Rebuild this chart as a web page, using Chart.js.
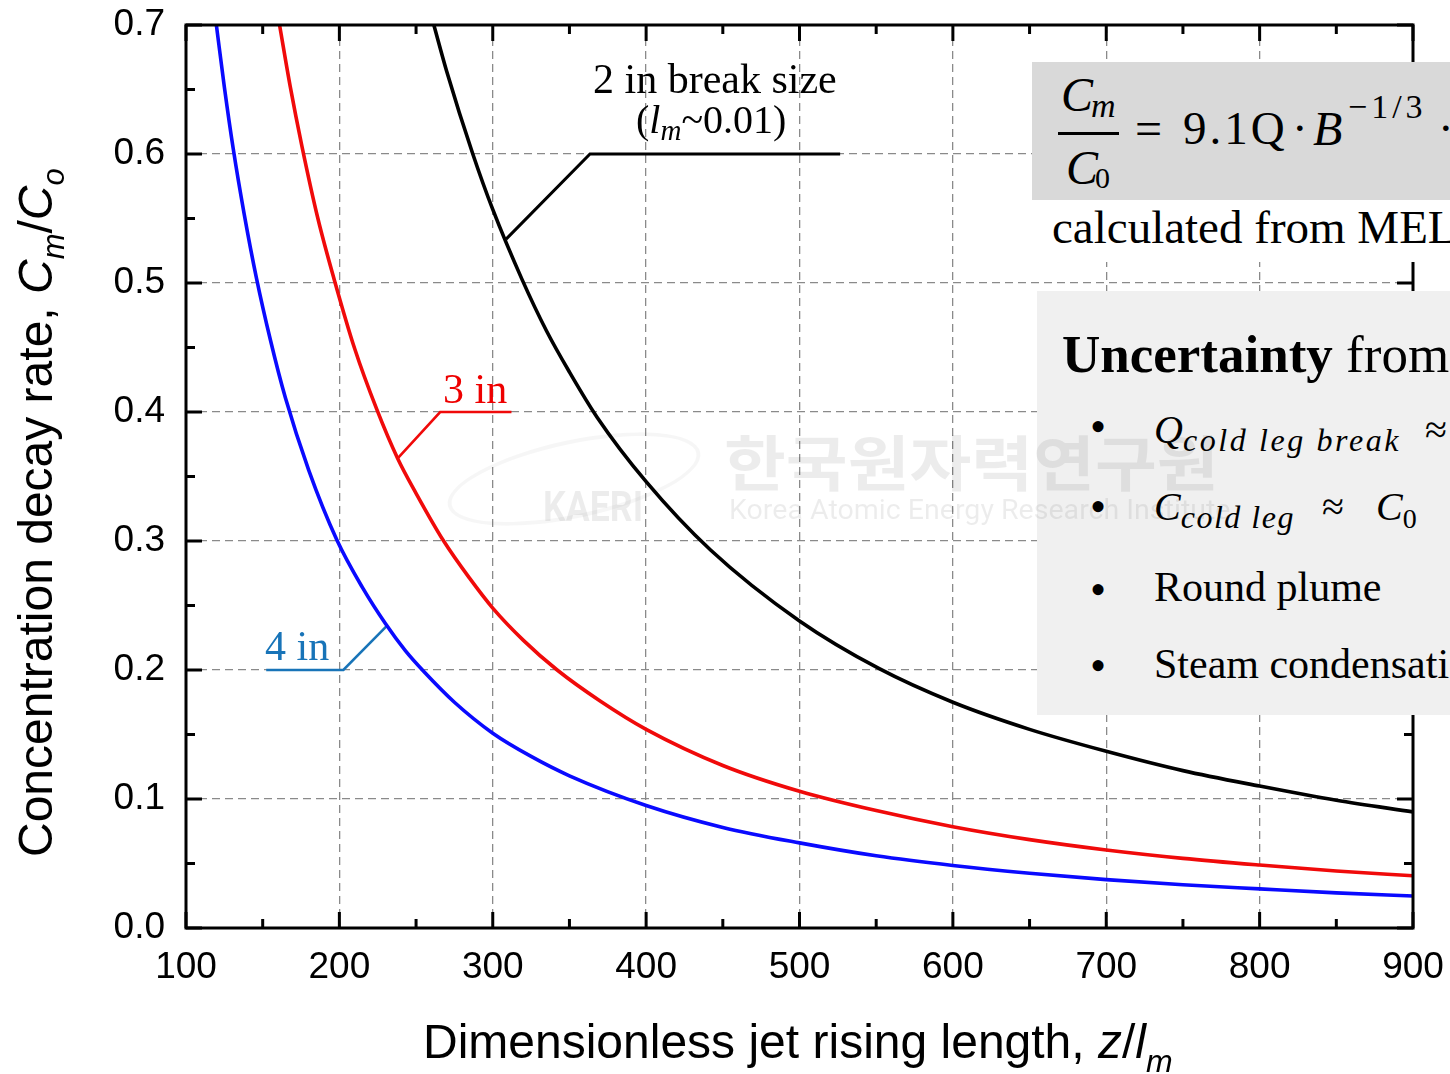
<!DOCTYPE html>
<html>
<head>
<meta charset="utf-8">
<script src="https://cdn.jsdelivr.net/npm/chart.js@4.4.1/dist/chart.umd.min.js"></script>
<style>
  body { margin: 0; width: 1450px; height: 1074px; overflow: hidden; position: relative; background: #fff; }
  #chart { position: absolute; left: 0; top: 0; }
  .t { position: absolute; white-space: nowrap; line-height: 1; }
  .serif { font-family: "Liberation Serif", "Times New Roman", serif; }
  .sans { font-family: "Liberation Sans", Arial, sans-serif; }
  .box { position: absolute; }
  .wm { position: absolute; white-space: nowrap; line-height: 1; color: rgba(0,0,0,0.075); }
</style>
</head>
<body>
<canvas id="chart" width="1450" height="1074"></canvas>

<!-- axis titles -->
<div class="t sans" style="left:423px; top:1018px; font-size:48px;">Dimensionless jet rising length, <i>z</i>/<i>l</i><sub style="font-size:32px; vertical-align:-14px;"><i>m</i></sub></div>
<div class="t sans" style="left:12px; top:857px; font-size:48px; transform-origin:left top; transform:rotate(-90deg);">Concentration decay rate, <i>C</i><sub style="font-size:31px; vertical-align:-12px;"><i>m</i></sub>/<i>C</i><sub style="font-size:31px; vertical-align:-12px;"><i>o</i></sub></div>

<!-- curve labels -->
<div class="t serif" style="left:593px; top:58px; font-size:42px;">2 in break size</div>
<div class="t serif" style="left:636px; top:100px; font-size:40px;">(<i>l</i><sub style="font-size:29px; vertical-align:-7px;"><i>m</i></sub>~0.01)</div>
<div class="t serif" style="left:443px; top:368px; font-size:42px; color:#ee0000;">3 in</div>
<div class="t serif" style="left:265px; top:625px; font-size:42px; color:#1874b8;">4 in</div>

<!-- formula box -->
<div class="box" style="left:1032px; top:62px; width:460px; height:138px; background:#d9d9d9;"></div>
<div class="t serif" style="left:1061px; top:71px; font-size:48px;"><i>C</i></div>
<div class="t serif" style="left:1091px; top:89px; font-size:34px;"><i>m</i></div>
<div class="box" style="left:1058px; top:132px; width:61px; height:3px; background:#000;"></div>
<div class="t serif" style="left:1066px; top:144px; font-size:48px;"><i>C</i></div>
<div class="t serif" style="left:1095px; top:163px; font-size:30px;">0</div>
<div class="t serif" style="left:1135px; top:105px; font-size:48px;">=</div>
<div class="t serif" style="left:1183px; top:105px; font-size:47px; letter-spacing:3px;">9.1Q</div>
<div class="t serif" style="left:1292px; top:105px; font-size:47px;">·</div>
<div class="t serif" style="left:1313px; top:105px; font-size:48px;"><i>B</i></div>
<div class="t serif" style="left:1348px; top:90px; font-size:34px; letter-spacing:4px;">−1/3</div>
<div class="t serif" style="left:1438px; top:105px; font-size:47px;">·</div>
<div class="box" style="left:1032px; top:200px; width:460px; height:62px; background:#fff;"></div>
<div class="t serif" style="left:1052px; top:204px; font-size:47px;">calculated from MELCOR</div>

<!-- uncertainty box -->
<div class="box" style="left:1037px; top:291px; width:460px; height:424px; background:#f0f0f0;"></div>
<div class="t serif" style="left:1062px; top:328px; font-size:53px;"><b>Uncertainty</b> from</div>
<div class="t serif" style="left:1090px; top:404px; font-size:46px;">•</div>
<div class="t serif" style="left:1154px; top:410px; font-size:40px;"><i>Q</i><sub style="font-size:32px; vertical-align:-8px; letter-spacing:2.6px;"><i>cold leg break</i></sub></div>
<div class="t serif" style="left:1425px; top:410px; font-size:40px;">≈</div>
<div class="t serif" style="left:1090px; top:484px; font-size:46px;">•</div>
<div class="t serif" style="left:1154px; top:487px; font-size:40px;"><i>C</i><sub style="font-size:32px; vertical-align:-8px; letter-spacing:1.5px;"><i>cold leg</i></sub></div>
<div class="t serif" style="left:1322px; top:487px; font-size:40px;">≈</div>
<div class="t serif" style="left:1376px; top:487px; font-size:40px;"><i>C</i><sub style="font-size:28px; vertical-align:-8px;">0</sub></div>
<div class="t serif" style="left:1090px; top:567px; font-size:46px;">•</div>
<div class="t serif" style="left:1154px; top:566px; font-size:42px;">Round plume</div>
<div class="t serif" style="left:1090px; top:643px; font-size:46px;">•</div>
<div class="t serif" style="left:1154px; top:643px; font-size:42px;">Steam condensation</div>

<!-- watermark -->
<div class="wm" style="left:445px; top:440px; width:250px; height:70px; border:4px solid rgba(0,0,0,0.035); border-radius:50%; transform:rotate(-12deg);"></div>
<div class="wm" style="left:543px; top:486px; font-family:'Roboto', sans-serif; font-weight:bold; font-size:42px; transform:scaleX(0.85); transform-origin:left top;">KAERI</div>
<div class="wm" style="left:724px; top:430px; font-family:'Noto Sans CJK KR', sans-serif; font-weight:bold; font-size:60px; transform:scaleX(1.12); transform-origin:left top;">한국원자력연구원</div>
<div class="wm" style="left:729px; top:496px; font-family:'Roboto', sans-serif; font-size:28px; transform:scaleX(1.02); transform-origin:left top;">Korea Atomic Energy Research Institute</div>

<script>
// x tick labels / y tick labels
const xTicks = [100, 200, 300, 400, 500, 600, 700, 800, 900];
const yTicks = [0.0, 0.1, 0.2, 0.3, 0.4, 0.5, 0.6, 0.7];

// 2 in break size (black)
const blackX = [261.6, 270, 287, 300, 319, 335, 350, 368, 400, 442, 500, 552, 600, 650, 700, 750, 800, 850, 900];
const blackY = [0.700, 0.664, 0.600, 0.557, 0.503, 0.463, 0.431, 0.396, 0.346, 0.293, 0.238, 0.201, 0.175, 0.154, 0.137, 0.122, 0.110, 0.099, 0.090];

// 3 in (red)
const redX = [161, 168, 175.6, 186, 196.8, 210, 224.4, 238, 250, 268, 285, 300, 320, 342, 370, 400, 450, 500, 550, 600, 650, 700, 750, 800, 850, 900];
const redY = [0.700, 0.652, 0.606, 0.550, 0.502, 0.449, 0.402, 0.364, 0.337, 0.300, 0.271, 0.248, 0.223, 0.200, 0.176, 0.154, 0.126, 0.106, 0.091, 0.0785, 0.0685, 0.0605, 0.054, 0.0488, 0.0442, 0.0405];

// 4 in (blue)
const blueX = [119.8, 125, 130.8, 138, 145.9, 155, 164.8, 180, 198.3, 215, 230, 243, 254.9, 275, 300, 325, 350, 400, 450, 500, 550, 600, 650, 700, 750, 800, 850, 900];
const blueY = [0.700, 0.652, 0.604, 0.553, 0.504, 0.456, 0.411, 0.355, 0.301, 0.264, 0.236, 0.215, 0.199, 0.175, 0.151, 0.133, 0.118, 0.095, 0.078, 0.066, 0.056, 0.0485, 0.0425, 0.0375, 0.0335, 0.0303, 0.0272, 0.0248];

// leader lines for the labels
const blackLeaderX = [308.7, 363.4, 526.5];
const blackLeaderY = [0.534, 0.600, 0.600];
const redLeaderX = [238, 265.7, 312.2];
const redLeaderY = [0.364, 0.400, 0.400];
const blueLeaderX = [230.8, 202.6, 152.3];
const blueLeaderY = [0.234, 0.200, 0.200];

function pts(xs, ys) {
    return xs.map((x, i) => ({ x: x, y: ys[i] }));
}

function curve(xs, ys, color) {
    return {
        data: pts(xs, ys),
        borderColor: color,
        borderWidth: 3.6,
        pointRadius: 0,
        showLine: true,
        cubicInterpolationMode: 'monotone',
        fill: false
    };
}

function leader(xs, ys, color, width) {
    return {
        data: pts(xs, ys),
        borderColor: color,
        borderWidth: width,
        pointRadius: 0,
        showLine: true,
        tension: 0,
        fill: false,
        clip: false
    };
}

// no extra room for half tick labels, the layout padding sets the plot box
function noOverflow(s) {
    s.paddingTop = 0;
    s.paddingBottom = 0;
    s.paddingLeft = 0;
    s.paddingRight = 0;
}

// frame around the plot with inward ticks on all four sides
const frameTicks = {
    id: 'frameTicks',
    afterDatasetsDraw(chart) {
        const { ctx, chartArea: a, scales: { x, y } } = chart;
        ctx.save();
        ctx.strokeStyle = '#000';
        ctx.lineWidth = 3;
        ctx.beginPath();
        for (let v = xTicks[0]; v <= xTicks[xTicks.length - 1]; v += 50) {
            const px = x.getPixelForValue(v);
            const len = (v % 100 === 0) ? 16 : 9;
            ctx.moveTo(px, a.bottom); ctx.lineTo(px, a.bottom - len);
            ctx.moveTo(px, a.top); ctx.lineTo(px, a.top + len);
        }
        for (let k = 0; k <= 14; k++) {
            const py = y.getPixelForValue(k * 0.05);
            const len = (k % 2 === 0) ? 16 : 9;
            ctx.moveTo(a.left, py); ctx.lineTo(a.left + len, py);
            ctx.moveTo(a.right, py); ctx.lineTo(a.right - len, py);
        }
        ctx.stroke();
        ctx.strokeRect(a.left, a.top, a.right - a.left, a.bottom - a.top);
        ctx.restore();
    }
};

new Chart(document.getElementById('chart'), {
    type: 'scatter',
    data: {
        datasets: [
            curve(blackX, blackY, '#000000'),
            curve(redX, redY, '#f00a0a'),
            curve(blueX, blueY, '#0a0aff'),
            leader(blackLeaderX, blackLeaderY, '#000000', 3),
            leader(redLeaderX, redLeaderY, '#f00a0a', 2.6),
            leader(blueLeaderX, blueLeaderY, '#1874b8', 2.6)
        ]
    },
    options: {
        responsive: false,
        devicePixelRatio: 1,
        animation: false,
        layout: { padding: { top: 25, right: 37, left: 0, bottom: 0 } },
        plugins: {
            legend: { display: false },
            tooltip: { enabled: false }
        },
        scales: {
            x: {
                type: 'linear',
                min: 100,
                max: 900,
                afterFit: s => { s.height = 146; noOverflow(s); },
                afterBuildTicks: s => { s.ticks = xTicks.map(v => ({ value: v })); },
                ticks: {
                    color: '#000',
                    padding: 18,
                    maxRotation: 0,
                    font: { family: 'Liberation Sans', size: 37 }
                },
                grid: { color: '#8a8a8a', lineWidth: 1.3, drawTicks: false },
                border: { display: false, dash: [8, 5] }
            },
            y: {
                type: 'linear',
                min: 0,
                max: 0.7,
                afterFit: s => { s.width = 186; noOverflow(s); },
                afterBuildTicks: s => { s.ticks = yTicks.map(v => ({ value: v })); },
                ticks: {
                    color: '#000',
                    padding: 21,
                    callback: v => v.toFixed(1),
                    font: { family: 'Liberation Sans', size: 37 }
                },
                grid: { color: '#8a8a8a', lineWidth: 1.3, drawTicks: false },
                border: { display: false, dash: [8, 5] }
            }
        }
    },
    plugins: [frameTicks]
});
</script>
</body>
</html>
